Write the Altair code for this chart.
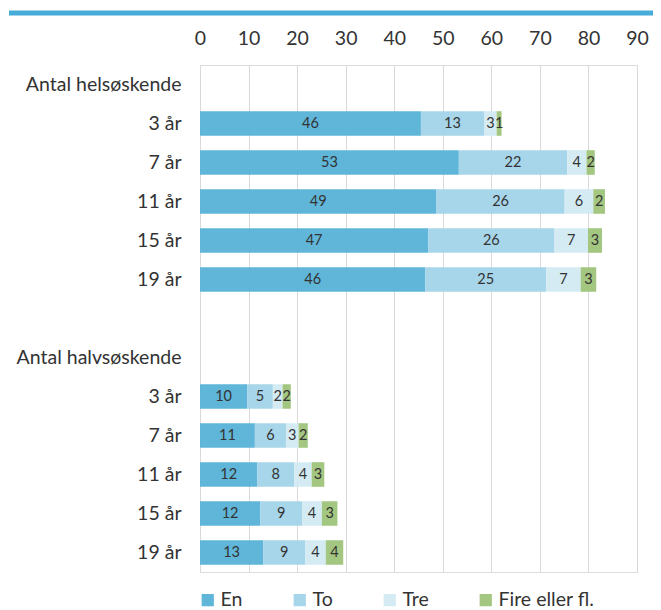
import json
import altair as alt
import pandas as pd

# ---- data ----
row_labels = ["Antal helsøskende", "3 år", "7 år", "11 år", "15 år", "19 år", "",
              "Antal halvsøskende", "3 år", "7 år", "11 år", "15 år", "19 år"]
series = ["En", "To", "Tre", "Fire eller fl."]
colors = ["#5ab4d8", "#a4d4e8", "#d3eaf4", "#a0c47c"]

hel_rows = [1, 2, 3, 4, 5]
halv_rows = [8, 9, 10, 11, 12]

hel_en = [45.5, 53.3, 48.7, 47.0, 46.4]
hel_to = [13.0, 22.3, 26.4, 26.0, 24.9]
hel_tre = [2.6, 4.0, 5.9, 6.9, 7.1]
hel_fire = [1.0, 1.7, 2.4, 2.9, 3.2]

halv_en = [9.7, 11.3, 11.8, 12.4, 13.0]
halv_to = [5.3, 6.4, 7.6, 8.6, 8.7]
halv_tre = [2.0, 2.6, 3.6, 4.1, 4.2]
halv_fire = [1.7, 1.9, 2.6, 3.2, 3.6]

x_ticks = [0, 10, 20, 30, 40, 50, 60, 70, 80, 90]

recs = []
for rows, cols in ((hel_rows, [hel_en, hel_to, hel_tre, hel_fire]),
                   (halv_rows, [halv_en, halv_to, halv_tre, halv_fire])):
    for i, r in enumerate(rows):
        for k, s in enumerate(series):
            recs.append({"row": r, "serie": s, "ord": k, "value": cols[k][i]})
df = pd.DataFrame(recs)

FONT = "Lato"
label_expr = json.dumps(row_labels, ensure_ascii=False) + "[datum.value]"

y_enc = alt.Y("row:O",
              scale=alt.Scale(domain=list(range(len(row_labels))),
                              paddingInner=0.37, paddingOuter=0.185),
              axis=alt.Axis(title=None, labelExpr=label_expr, ticks=False,
                            domain=False, labelPadding=19, labelFontSize=19.5,
                            labelFont=FONT, labelColor="#333333"))

base = alt.Chart(df).transform_stack(
    stack="value", groupby=["row"], as_=["v0", "v1"],
    sort=[alt.SortField("ord", order="ascending")]
).transform_calculate(mid="(datum.v0 + datum.v1) / 2")

bars = base.mark_bar(opacity=0.97).encode(
    x=alt.X("v0:Q", scale=alt.Scale(domain=[0, 90], nice=False),
            axis=alt.Axis(orient="top", values=x_ticks, title=None, ticks=False,
                          domain=False, grid=True, gridColor="#d9d9d9",
                          labelFontSize=19.5, labelFont=FONT, labelColor="#333333",
                          labelPadding=17, labelFlush=False, labelOverlap=False)),
    x2="v1:Q",
    y=y_enc,
    color=alt.Color("serie:N", scale=alt.Scale(domain=series, range=colors),
                    legend=alt.Legend(title=None, orient="none", direction="horizontal",
                                      legendX=-2, legendY=525, symbolType="square",
                                      symbolSize=150, symbolStrokeWidth=0,
                                      labelFontSize=19.5, labelFont=FONT,
                                      labelColor="#333333", columnPadding=47,
                                      labelOffset=3, symbolOffset=0)),
)

texts = base.mark_text(fontSize=14.5, font=FONT, color="#333333").encode(
    x=alt.X("mid:Q"),
    y=alt.Y("row:O"),
    text=alt.Text("value:Q", format=".0f"),
)

topline = alt.Chart(pd.DataFrame({"a": [0]})).mark_rule(
    color="#47acd8", strokeWidth=5).encode(
    x=alt.value(-191), x2=alt.value(453), y=alt.value(-52))

chart = alt.layer(bars, texts, topline).properties(
    width=437, height=507,
    autosize=alt.AutoSizeParams(type="none"),
    padding={"left": 192, "top": 57, "right": 16, "bottom": 38},
).configure_view(stroke=None).configure(font=FONT)

chart.save("out.html", embed_options={"renderer": "svg", "actions": False})
